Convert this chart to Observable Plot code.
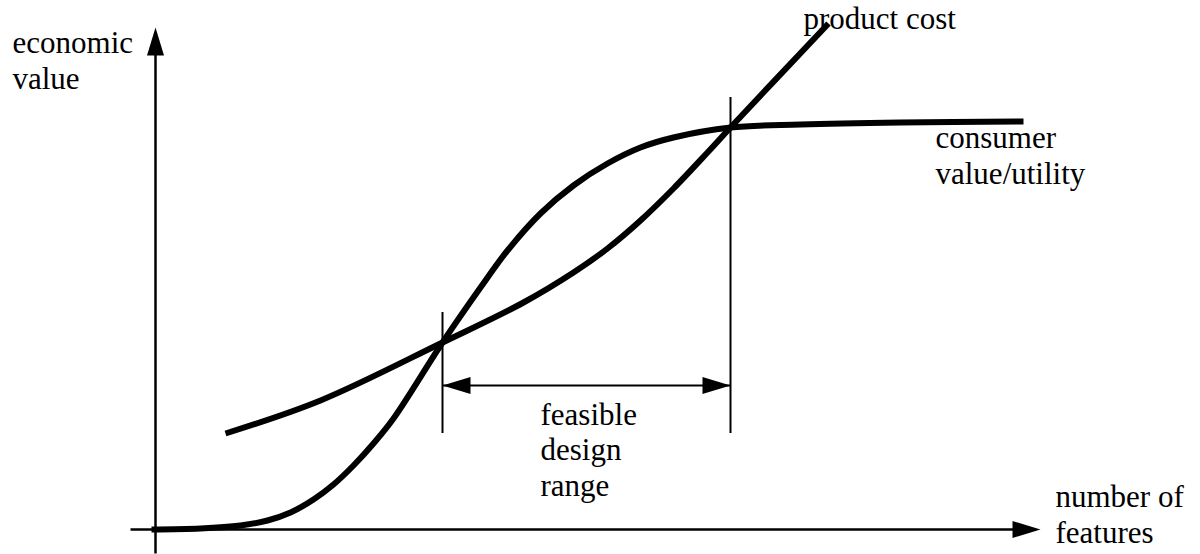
<!DOCTYPE html>
<html>
<head>
<meta charset="utf-8">
<script src="https://cdn.jsdelivr.net/npm/d3@7"></script>
<script src="https://cdn.jsdelivr.net/npm/@observablehq/plot@0.6"></script>
<style>
  html, body { margin: 0; padding: 0; background: #fff; }
  #chart svg { display: block; }
</style>
</head>
<body>
<div id="chart"></div>
<script>
// Conceptual units: origin where the axes cross.
// Consumer value / utility (S-curve)
const consumerX = [-0.04, 0.45, 0.85, 1.12, 1.35, 1.58, 1.78, 1.98, 2.18, 2.38, 2.87, 3.25, 3.52, 3.85, 4.18, 4.52, 4.85, 5.18, 5.75, 6.45, 7.45, 8.68];
const consumerY = [0.00, 0.01, 0.04, 0.09, 0.17, 0.30, 0.45, 0.64, 0.86, 1.11, 1.87, 2.42, 2.79, 3.16, 3.44, 3.66, 3.82, 3.92, 4.02, 4.05, 4.07, 4.08];
// Product cost (convex curve)
const costX = [0.70, 1.65, 2.87, 3.68, 4.18, 4.52, 4.85, 5.18, 5.52, 5.75, 6.73];
const costY = [0.96, 1.29, 1.87, 2.27, 2.57, 2.81, 3.09, 3.41, 3.77, 4.02, 5.06];

// Axes extents
const xAxisX = [-0.25, 8.60];
const xAxisTip = 8.85;
const yAxisY = [-0.24, 4.76];
const yAxisTip = 5.02;

// Feasible design range bounds
const boundsX = [2.87, 5.75];
const boundsLow = [0.96, 0.96];
const boundsHigh = [2.17, 4.32];
const rangeY = 1.44;

// Labels
const labelText = ["economic\nvalue", "product cost", "consumer\nvalue/utility", "feasible\ndesign\nrange", "number of\nfeatures"];
const labelX = [-1.43, 6.48, 7.80, 3.85, 9.00];
const labelY = [4.41, 5.01, 3.46, 0.34, -0.13];

const consumer = consumerX.map((x, i) => ({x, y: consumerY[i]}));
const cost = costX.map((x, i) => ({x, y: costY[i]}));
const bounds = boundsX.map((x, i) => ({x, y1: boundsLow[i], y2: boundsHigh[i]}));
const labels = labelText.map((t, i) => ({t, x: labelX[i], y: labelY[i]}));

const L = 28, W = 8.5;
const headUp = {draw(c) { c.moveTo(0, 0); c.lineTo(W, L); c.lineTo(-W, L); c.closePath(); }};
const headRight = {draw(c) { c.moveTo(0, 0); c.lineTo(-L, -W); c.lineTo(-L, W); c.closePath(); }};
const headLeft = {draw(c) { c.moveTo(0, 0); c.lineTo(L, -W); c.lineTo(L, W); c.closePath(); }};

const font = "'Liberation Serif', 'Times New Roman', Times, serif";

const chart = Plot.plot({
  width: 1200,
  height: 554,
  margin: 0,
  x: {domain: [-1.55, 10.45], axis: null},
  y: {domain: [-0.25, 5.29], axis: null},
  style: {background: "#fff", fontFamily: font},
  marks: [
    // axes
    Plot.line([{x: xAxisX[0], y: 0}, {x: xAxisX[1], y: 0}], {x: "x", y: "y", stroke: "black", strokeWidth: 2.5, strokeLinecap: "butt"}),
    Plot.line([{x: 0, y: yAxisY[0]}, {x: 0, y: yAxisY[1]}], {x: "x", y: "y", stroke: "black", strokeWidth: 2.5, strokeLinecap: "butt"}),
    Plot.dot([{x: xAxisTip, y: 0}], {x: "x", y: "y", symbol: headRight, fill: "black", stroke: "none"}),
    Plot.dot([{x: 0, y: yAxisTip}], {x: "x", y: "y", symbol: headUp, fill: "black", stroke: "none"}),
    // range bounds
    Plot.ruleX(bounds, {x: "x", y1: "y1", y2: "y2", stroke: "black", strokeWidth: 2}),
    // double arrow
    Plot.line([{x: boundsX[0], y: rangeY}, {x: boundsX[1], y: rangeY}], {x: "x", y: "y", stroke: "black", strokeWidth: 2, strokeLinecap: "butt"}),
    Plot.dot([{x: boundsX[0], y: rangeY}], {x: "x", y: "y", symbol: headLeft, fill: "black", stroke: "none"}),
    Plot.dot([{x: boundsX[1], y: rangeY}], {x: "x", y: "y", symbol: headRight, fill: "black", stroke: "none"}),
    // curves
    Plot.line(consumer, {x: "x", y: "y", curve: "catmull-rom", stroke: "black", strokeWidth: 6, strokeLinecap: "butt"}),
    Plot.line(cost, {x: "x", y: "y", curve: "catmull-rom", stroke: "black", strokeWidth: 6, strokeLinecap: "butt"}),
    // labels
    Plot.text(labels, {x: "x", y: "y", text: "t", textAnchor: "start", lineAnchor: "bottom", lineHeight: 1.13, fontSize: 31, fill: "black", fontFamily: font})
  ]
});
document.getElementById("chart").appendChild(chart);
</script>
</body>
</html>
